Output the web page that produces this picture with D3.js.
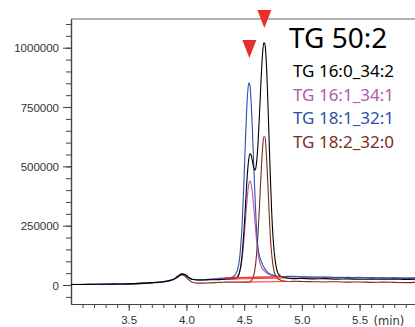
<!DOCTYPE html>
<html>
<head>
<meta charset="utf-8">
<script src="https://cdn.jsdelivr.net/npm/d3@7"></script>
<style>
  body { margin: 0; background: #fff; }
  svg { display: block; }
</style>
</head>
<body>
<script>
// retention time (min) - sampled more densely around the peaks
const times = [3.00, 3.10, 3.20, 3.30, 3.40, 3.50, 3.60, 3.70, 3.80,
  3.85, 3.90, 3.93, 3.96, 3.99,
  4.02, 4.05, 4.10, 4.15, 4.20, 4.25, 4.30,
  4.34, 4.37,
  4.40, 4.42, 4.44, 4.46, 4.48,
  4.50, 4.51, 4.52, 4.53, 4.54, 4.55, 4.56, 4.57, 4.58, 4.59, 4.60, 4.61, 4.62,
  4.63, 4.64, 4.65, 4.66, 4.67, 4.68, 4.69, 4.70, 4.71, 4.72, 4.73, 4.74,
  4.76, 4.78, 4.80,
  4.83, 4.86, 4.90, 4.95,
  5.00, 5.10, 5.20, 5.30, 5.40, 5.50, 5.60, 5.70, 5.80, 5.90,
  5.98];

// intensities in thousands of counts
const tg16_0_34_2 = [2, 2, 3, 3, 4, 5, 7, 10, 14,
  18, 27, 38, 46, 43,
  32, 24, 21, 21, 22, 22, 23,
  24, 25,
  26, 27, 31, 53, 117,
  242, 323, 408, 481, 531, 553, 548, 527, 500, 484, 491, 529, 597,
  691, 797, 899, 978, 1021, 1016, 956, 847, 706, 556, 414, 292,
  140, 70, 44,
  34, 30, 28, 27,
  28, 26, 27, 25, 26, 24, 25, 24, 25, 23,
  24];

const tg16_1_34_1 = [2, 3, 3, 3, 4, 5, 7, 10, 14,
  18, 27, 37, 45, 42,
  31, 24, 22, 23, 25, 27, 29,
  30, 30,
  30, 31, 36, 52, 101,
  199, 262, 328, 385, 424, 438, 426, 394, 345, 288, 228, 174, 132,
  107, 88, 77, 68, 62, 56, 52, 48, 46, 44, 42, 41,
  39, 37, 36,
  35, 34, 35, 34,
  33, 34, 32, 33, 31, 32, 30, 31, 29, 30,
  30];

const tg18_1_32_1 = [3, 2, 3, 4, 4, 5, 7, 10, 15,
  19, 28, 39, 47, 43,
  31, 23, 21, 22, 23, 24, 26,
  27, 29,
  34, 42, 60, 110, 235,
  462, 594, 716, 808, 852, 841, 776, 670, 545, 418, 305, 215, 158,
  128, 110, 98, 86, 76, 68, 61, 55, 51, 48, 45, 43,
  40, 38, 37,
  36, 36, 37, 36,
  35, 33, 34, 31, 32, 30, 31, 29, 30, 28,
  29];

const tg18_2_32_0 = [2, 2, 2, 3, 3, 4, 6, 9, 13,
  17, 25, 35, 42, 36,
  22, 12, 8, 8, 9, 10, 11,
  12, 12,
  12, 12, 12, 12, 12,
  12, 12, 12, 13, 13, 14, 17, 23, 35, 56, 91, 144, 216,
  305, 405, 502, 578, 625, 624, 571, 482, 375, 270, 180, 123,
  56, 32, 24,
  18, 16, 15, 16,
  15, 14, 13, 14, 12, 13, 11, 12, 11, 10,
  11];

const seriesNames = ["TG 16:0_34:2", "TG 16:1_34:1", "TG 18:1_32:1", "TG 18:2_32:0"];
const seriesColors = ["#000000", "#b25aa8", "#2b50aa", "#7c2d1c"];
const seriesValues = [tg16_0_34_2, tg16_1_34_1, tg18_1_32_1, tg18_2_32_0];

// integration windows (min), same order as the series
const peakStart = [4.34, 4.34, 4.37, 4.50];
const peakEnd = [4.86, 4.83, 4.83, 4.90];

// red markers above the two isomer peaks (time, intensity of the tip)
const markerTimes = [4.545, 4.675];
const markerValues = [957, 1083];

const xTicks = [3.5, 4.0, 4.5, 5.0, 5.5];
const yTicks = [0, 250, 500, 750, 1000];
const title = "TG 50:2";

const width = 415, height = 327;
const mLeft = 71, mRight = 415, mTop = 19, mBottom = 304;

const svg = d3.select("body").append("svg")
  .attr("width", width)
  .attr("height", height)
  .style("font-family", "'DejaVu Sans', sans-serif");

const x = d3.scaleLinear().domain([3.0, 5.98]).range([mLeft, mRight]);
const y = d3.scaleLinear().domain([-80, 1121]).range([mBottom, mTop]);

svg.append("clipPath").attr("id", "plot")
  .append("rect")
  .attr("x", mLeft).attr("y", mTop)
  .attr("width", mRight - mLeft).attr("height", mBottom - mTop);

// axes
const axisColor = "#444";

svg.append("g")
  .attr("transform", `translate(${mLeft},0)`)
  .call(d3.axisLeft(y).tickValues(d3.range(-50, 1121, 50)).tickSize(5).tickSizeOuter(0).tickFormat(""));
const yMajor = svg.append("g")
  .attr("transform", `translate(${mLeft},0)`)
  .call(d3.axisLeft(y).tickValues(yTicks).tickSize(8).tickSizeOuter(0).tickFormat(d => d3.format("d")(d * 1000)));
yMajor.selectAll("text").attr("x", -12).attr("dy", "0.36em")
  .style("font-size", "11.5px").attr("fill", "#333");

svg.append("g")
  .attr("transform", `translate(0,${mBottom})`)
  .call(d3.axisBottom(x).tickValues(d3.range(3.1, 5.99, 0.1)).tickSize(4).tickSizeOuter(0).tickFormat(""));
const xMajor = svg.append("g")
  .attr("transform", `translate(0,${mBottom})`)
  .call(d3.axisBottom(x).tickValues(xTicks).tickSize(7).tickSizeOuter(0).tickFormat(d3.format(".1f")));
xMajor.selectAll("text").attr("y", 12).attr("dy", "0.71em")
  .style("font-size", "11.5px").attr("fill", "#333");

svg.selectAll(".domain").attr("stroke", axisColor).attr("stroke-width", 1.2);
svg.selectAll(".tick line").attr("stroke", axisColor);

svg.append("text")
  .attr("x", x(5.5) + 14).attr("y", 325)
  .style("font-size", "11.5px").attr("fill", "#333")
  .text("(min)");

// top frame line
svg.append("line")
  .attr("x1", mLeft).attr("x2", mRight)
  .attr("y1", mTop).attr("y2", mTop)
  .attr("stroke", "#666").attr("stroke-width", 1.2);

// chromatogram traces
const plot = svg.append("g").attr("clip-path", "url(#plot)");

const line = d3.line()
  .x((d, i) => x(times[i]))
  .y(d => y(d))
  .curve(d3.curveMonotoneX);

const drawOrder = [3, 1, 2, 0];
drawOrder.forEach(k => {
  plot.append("path")
    .datum(seriesValues[k])
    .attr("fill", "none")
    .attr("stroke", seriesColors[k])
    .attr("stroke-width", 1.1)
    .attr("d", line);
});

// integration baselines
plot.selectAll("line.base")
  .data(seriesValues.map((vals, k) => ({
    t0: peakStart[k], t1: peakEnd[k],
    v0: vals[times.indexOf(peakStart[k])], v1: vals[times.indexOf(peakEnd[k])]
  })))
  .join("line")
  .attr("class", "base")
  .attr("x1", d => x(d.t0)).attr("x2", d => x(d.t1))
  .attr("y1", d => y(d.v0)).attr("y2", d => y(d.v1))
  .attr("stroke", "#ee2a24")
  .attr("stroke-opacity", 0.85)
  .attr("stroke-width", 1.1);

// peak markers
svg.selectAll("path.marker")
  .data(markerTimes.map((t, i) => [t, markerValues[i]]))
  .join("path")
  .attr("class", "marker")
  .attr("d", d => {
    const cx = x(d[0]), cy = y(d[1]);
    return `M${cx},${cy}L${cx - 7},${cy - 18}L${cx + 7},${cy - 18}Z`;
  })
  .attr("fill", "#e8302a");

// legend
const legend = svg.append("g").style("font-family", "'Noto Sans', 'Open Sans', sans-serif");
legend.append("text")
  .attr("x", 289).attr("y", 48)
  .style("font-size", "28px").attr("fill", "#000")
  .text(title);
legend.selectAll("text.item")
  .data(seriesNames)
  .join("text")
  .attr("class", "item")
  .attr("x", 293)
  .attr("y", (d, i) => 77 + i * 23.7)
  .style("font-size", "17px")
  .attr("fill", (d, i) => seriesColors[i])
  .text(d => d);
</script>
</body>
</html>
